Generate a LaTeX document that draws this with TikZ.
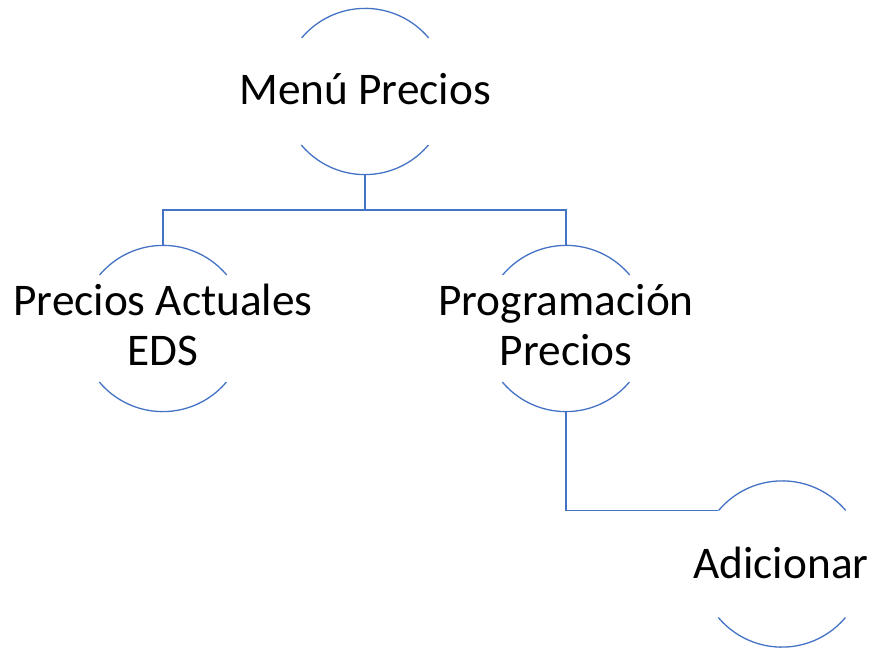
\documentclass[tikz,border=0pt]{standalone}
\usepackage{fontspec}
\setmainfont{Carlito}
\definecolor{arcblue}{HTML}{4472C4}
\begin{document}
\begin{tikzpicture}[x=1pt,y=1pt,
  ring/.style={circle,minimum size=166pt,inner sep=0pt,draw=none},
  lbl/.style={align=center,font=\fontsize{45.3}{50}\selectfont,inner sep=0pt,text=black},
  arcline/.style={draw=arcblue,line width=1.3pt},
  link/.style={draw=arcblue,line width=1.3pt}]
\useasboundingbox (0,0) rectangle (874,648);
\node[ring] (top) at (365,556.5) {};
\node[ring] (pa) at (163,319.5) {};
\node[ring] (pp) at (566,319.5) {};
\node[ring] (ad) at (782,84) {};
\node[lbl,anchor=base] (topt) at (365,543) {Menú Precios};
\node[lbl,anchor=base] (pat) at (163,282) {Precios Actuales\\EDS};
\node[lbl,anchor=base] (ppt) at (566,282) {Programación\\Precios};
\node[lbl,anchor=base] (adt) at (781,70) {Adicionar};
\foreach \n in {top,pa,pp,ad} {
  \draw[arcline] (\n.40) arc[start angle=40,end angle=140,radius=83pt];
  \draw[arcline] (\n.220) arc[start angle=220,end angle=320,radius=83pt];
}
\coordinate (bus) at (365,438);
\draw[link] (top.south) -- (bus) -| (pa.north);
\draw[link] (bus) -| (pp.north);
\draw[link] (pp.south) |- (ad.140);
\end{tikzpicture}
\end{document}
